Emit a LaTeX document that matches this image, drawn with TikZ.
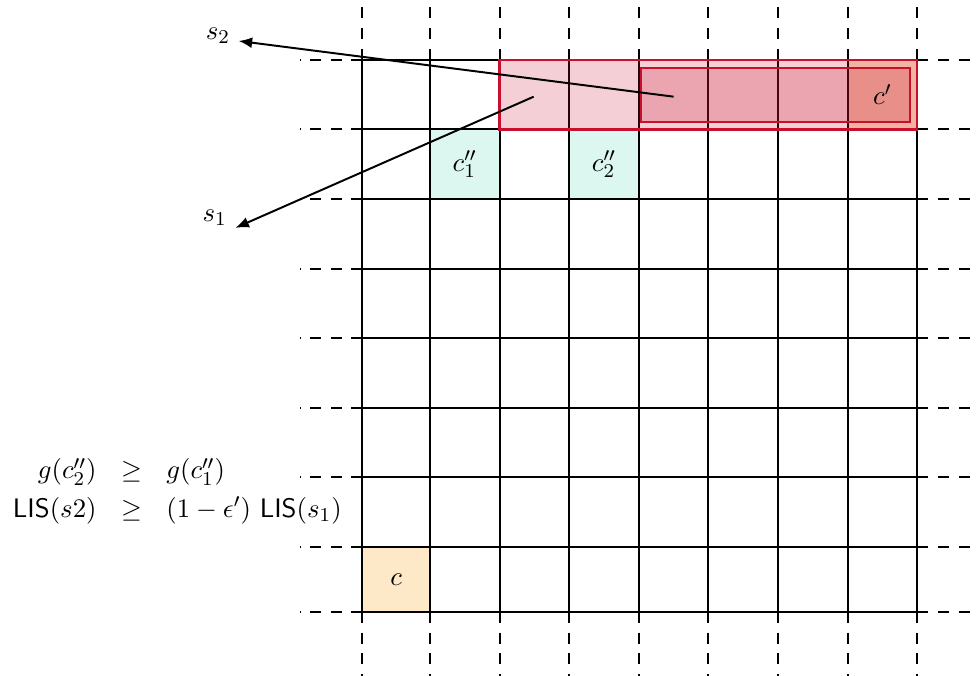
\documentclass[tikz,border=0pt]{standalone}
\usetikzlibrary{arrows.meta}
\definecolor{cellorange}{HTML}{FDE8C8}
\definecolor{cellpeach}{HTML}{FCDDBF}
\definecolor{cellmint}{HTML}{DCF7EF}
\definecolor{lisred}{HTML}{C8102E}
\begin{document}
\begin{tikzpicture}[>={Latex[length=5.5pt,width=4.5pt]},
    font=\fontsize{11}{13.6}\selectfont,
    gridext/.style={thick, dash pattern=on 4.5pt off 4pt}]
    \useasboundingbox (-6.178,-1.853) rectangle (7.845,7.859);

    % Cells c, c''_1, c''_2, c'
    \fill[cellorange] (-0.97,-0.93) rectangle (0,0);
    \fill[cellmint] (0,5) rectangle (1,6);
    \fill[cellmint] (2,5) rectangle (3,6);
    \fill[cellpeach] (6,6) rectangle (7,7);

    % Grid
    \draw[thick] (-0.97,-0.93) grid (7,7);
    \draw[thick] (-0.97,-0.93) rectangle (7,7);
    \foreach \x in {-0.97,0,1,2,3,4,5,6,7} {
        \draw[gridext] (\x,7) -- (\x,7.86);
        \draw[gridext] (\x,-0.93) -- (\x,-1.86);
    }
    \foreach \y in {-0.93,0,1,2,3,4,5,6,7} {
        \draw[gridext] (-0.97,\y) -- (-1.87,\y);
        \draw[gridext] (7,\y) -- (7.85,\y);
    }

    % Windows of s_1 and s_2
    \filldraw[fill=lisred, fill opacity=0.2, draw=lisred, line width=1pt] (1,6) rectangle (7,7);
    \filldraw[fill=lisred, fill opacity=0.22, draw=lisred, line width=0.8pt] (3.03,6.1) rectangle (6.9,6.88);

    % Labels
    \node (c) at (-0.485,-0.465) {$c$};
    \node (c1) at (0.5,5.5) {$c''_1$};
    \node (c2) at (2.5,5.5) {$c''_2$};
    \node (cp) at (6.5,6.5) {$c'$};
    \node (s2) at (-3.046,7.35) {$s_2$};
    \node (s1) at (-3.093,4.724) {$s_1$};

    % Pointers
    \coordinate (p2) at (3.5,6.47);
    \coordinate (p1) at (1.49,6.47);
    \draw[->, thick] (p2) -- (s2.-15);
    \draw[->, thick] (p1) -- (s1.-25);

    % Bound
    \node (bound) at (-3.63,0.8) {$\begin{array}{rcl}
        g(c''_2) & \geq & g(c''_1)\\[2pt]
        \mathsf{LIS}(s2) & \geq & (1-\epsilon')\ \mathsf{LIS}(s_1)
    \end{array}$};
\end{tikzpicture}
\end{document}
